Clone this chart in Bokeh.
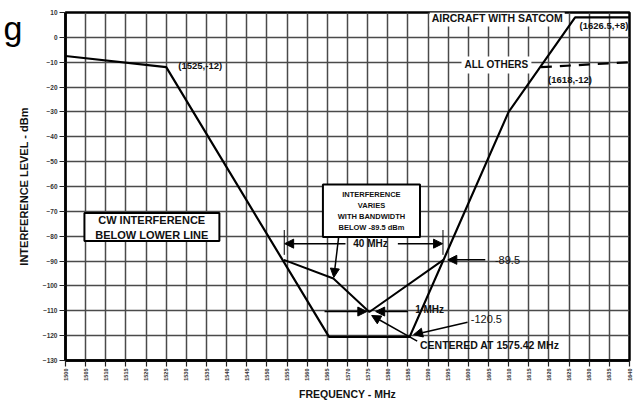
import math
from bokeh.plotting import figure
from bokeh.models import (Range1d, FixedTicker, Label, Arrow, NormalHead,
                          BoxAnnotation, LinearAxis)
from bokeh.embed import file_html
from bokeh.resources import INLINE

# ---- data -------------------------------------------------------------
mask_freq = [1500, 1525, 1565.42, 1585.42, 1610, 1626.5, 1640]
mask_level = [-7.5, -12, -120.5, -120.5, -30, 8, 8]
others_freq = [1618, 1640]
others_level = [-12, -10]
bw_freq = [1554.2, 1566.5, 1575.42, 1593.8]
bw_level = [-89.5, -97, -110.5, -89.5]
x_ticks = list(range(1500, 1641, 5))
y_ticks = list(range(-130, 11, 10))

FONT = "Liberation Sans"
INK = "#111111"

p = figure(width=639, height=402, output_backend="svg", toolbar_location=None,
           x_range=Range1d(1500, 1640), y_range=Range1d(-130, 10),
           min_border_left=64, min_border_right=10, min_border_top=12,
           min_border_bottom=38)
p.background_fill_color = "white"
p.border_fill_color = "white"
p.outline_line_color = "black"
p.outline_line_width = 2.5
p.outline_line_alpha = 1

# axes
for ax in (p.xaxis, p.yaxis):
    ax.axis_line_color = "black"
    ax.axis_line_width = 2.5
    ax.major_tick_line_color = "#222222"
    ax.major_tick_line_width = 1.2
    ax.major_tick_in = 0
    ax.major_tick_out = 6
    ax.minor_tick_line_color = None
    ax.major_label_text_font = FONT
    ax.major_label_text_font_style = "bold"
    ax.major_label_text_color = "#333333"
    ax.axis_label_text_font = FONT
    ax.axis_label_text_font_style = "bold"
    ax.axis_label_text_color = INK

p.xaxis.ticker = FixedTicker(ticks=x_ticks)
p.yaxis.ticker = FixedTicker(ticks=y_ticks)
p.xaxis.major_label_orientation = math.pi / 2
p.xaxis.major_label_text_font_size = "5.5px"
p.yaxis.major_label_text_font_size = "6.5px"
p.xaxis.major_label_standoff = 2
p.yaxis.major_label_standoff = 2
p.xaxis.axis_label = "FREQUENCY - MHz"
p.yaxis.axis_label = "INTERFERENCE LEVEL - dBm"
p.xaxis.axis_label_text_font_size = "10.5px"
p.yaxis.axis_label_text_font_size = "11px"
p.xaxis.axis_label_standoff = 4
p.yaxis.axis_label_standoff = 10

# stray slide letter at top-left, drawn as an outer, bare left axis label
g_axis = LinearAxis(ticker=FixedTicker(ticks=[3.8]),
                    major_label_overrides={3.8: "g"},
                    axis_line_color=None, major_tick_line_color=None,
                    minor_tick_line_color=None, major_tick_out=0,
                    major_tick_in=0,
                    major_label_standoff=-8,
                    major_label_text_font=FONT,
                    major_label_text_font_size="34px",
                    major_label_text_color="black")
p.add_layout(g_axis, "left")

p.xgrid.ticker = FixedTicker(ticks=x_ticks)
p.ygrid.ticker = FixedTicker(ticks=y_ticks)
for g in (p.xgrid, p.ygrid):
    g.grid_line_color = "#4a4a4a"
    g.grid_line_width = 1.5
    g.grid_line_alpha = 1

# ---- lines ------------------------------------------------------------
p.line(mask_freq, mask_level, line_color="black", line_width=2.2)
p.line(bw_freq, bw_level, line_color="black", line_width=2)
p.line(others_freq, others_level, line_color="black", line_width=2.2,
       line_dash="11 8")

# ---- annotations ------------------------------------------------------
def head(size=9):
    return NormalHead(size=size, fill_color="black", line_color="black",
                      line_width=1)

def arrow(x0, y0, x1, y1, end=True, w=1.5, size=9):
    p.add_layout(Arrow(x_start=x0, y_start=y0, x_end=x1, y_end=y1,
                       end=head(size) if end else None,
                       line_color="black", line_width=w))

def label(x, y, text, size="10px", align="left", bold=True, bg=None,
          pad=0, lh=1.2):
    lab = Label(x=x, y=y, text=text, text_font=FONT, text_font_size=size,
                text_font_style="bold" if bold else "normal",
                text_color=INK, text_align=align, text_baseline="middle",
                text_line_height=lh)
    if bg:
        lab.background_fill_color = bg
        lab.background_fill_alpha = 1
        lab.padding = pad
    p.add_layout(lab)

# boxes
p.add_layout(BoxAnnotation(left=1504.7, right=1538.2, top=-70.7, bottom=-81.9,
                           fill_color="white", fill_alpha=1,
                           line_color="black", line_width=2, line_alpha=1))
label(1521.4, -76.3, "CW INTERFERENCE\nBELOW LOWER LINE", size="11px",
      align="center", lh=1.25)

p.add_layout(BoxAnnotation(left=1563.9, right=1588.0, top=-59.2, bottom=-80.3,
                           fill_color="white", fill_alpha=1,
                           line_color="black", line_width=2, line_alpha=1))
label(1575.95, -69.8, "INTERFERENCE\nVARIES\nWITH BANDWIDTH\nBELOW -89.5 dBm",
      size="7.5px", align="center", lh=1.24)

# 40 MHz span
arrow(1569.5, -83, 1554.4, -83)
arrow(1582.5, -83, 1593.6, -83)
arrow(1554.3, -77.5, 1554.3, -87.5, end=False, w=1)
arrow(1593.7, -77.5, 1593.7, -87.5, end=False, w=1)
label(1575.7, -83, "40 MHz", size="10px", align="center")

# bandwidth pointer
arrow(1567.8, -80.4, 1566.6, -96.6)

# 1 MHz
arrow(1564.3, -110.3, 1574.8, -110.3)
arrow(1585.0, -110.3, 1577.0, -110.3)
label(1586.8, -109.6, "1 MHz", size="10px")

# -89.5
arrow(1604.2, -89.5, 1594.9, -89.5)
label(1606.6, -89.5, "-89.5", size="11px", bold=False)

# -120.5
arrow(1599.8, -114.6, 1586.4, -119.6)
label(1600.6, -113.4, "-120.5", size="11px", bold=False)

# centered at
arrow(1587.3, -122.2, 1576.0, -111.9)
label(1588.0, -123.8, "CENTERED AT 1575.42 MHz", size="10.5px")

# corner points
label(1528.0, -11.2, "(1525,-12)", size="9.5px")
label(1619.8, -16.8, "(1618,-12)", size="9.5px")
label(1627.6, 4.8, "(1626.5,+8)", size="9.5px")

# line names
label(1590.4, 7.6, "AIRCRAFT WITH SATCOM", size="10.5px", bg="white", pad=2)
label(1598.3, -11.1, "ALL OTHERS", size="10px", bg="white", pad=3)

open("out.html", "w").write(file_html(p, INLINE))
